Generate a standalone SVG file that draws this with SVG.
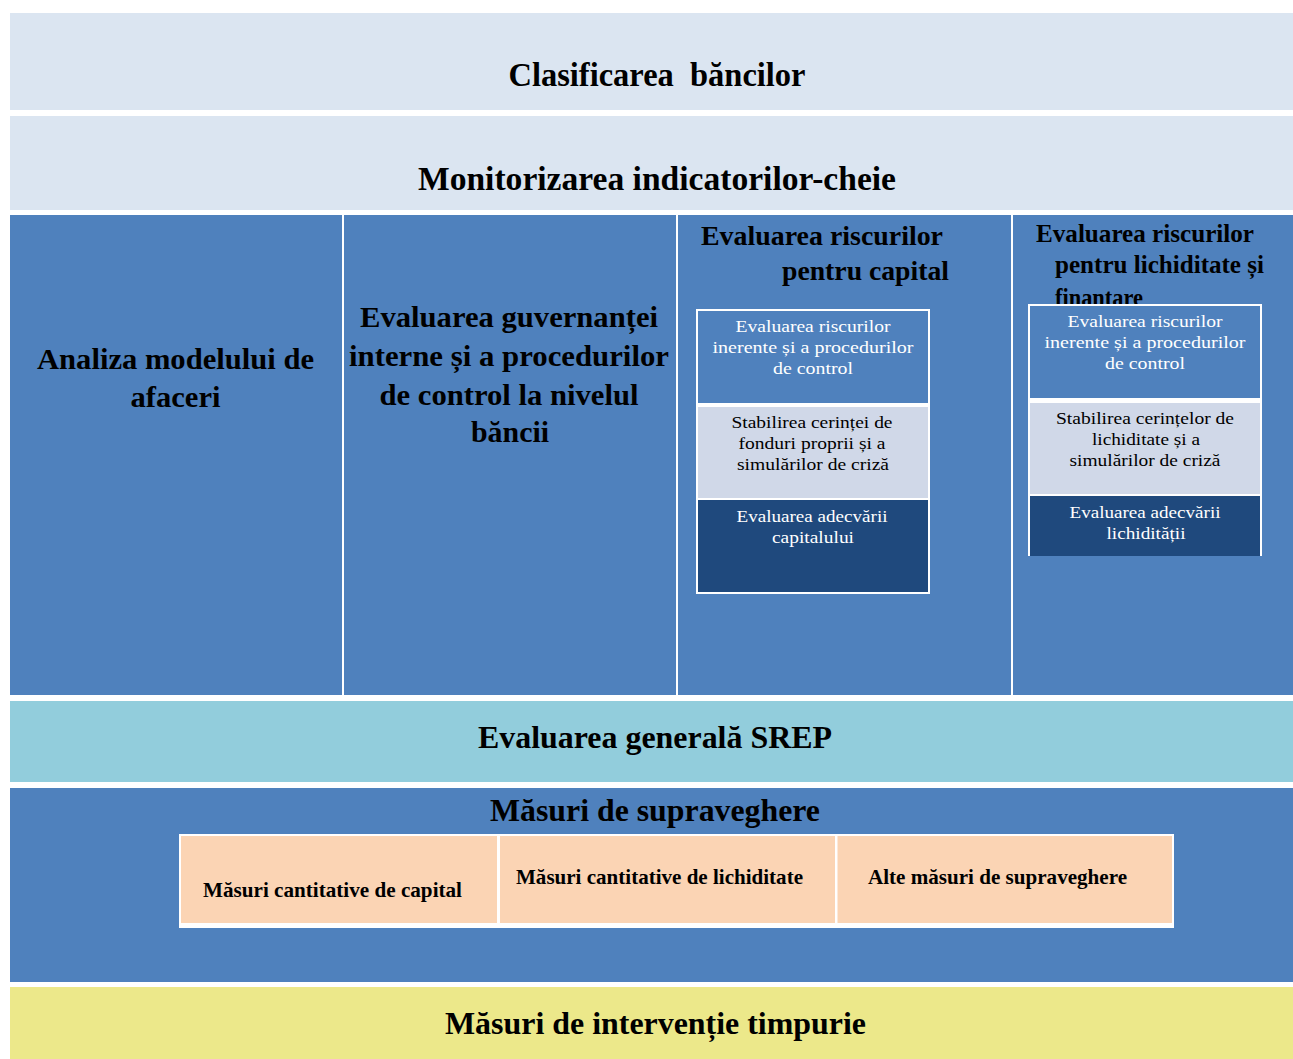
<svg xmlns="http://www.w3.org/2000/svg" width="1293" height="1059" viewBox="0 0 1293 1059">
<style>
.t{font-family:"Liberation Serif","Times New Roman",serif;font-weight:bold;fill:#000}
.s{font-family:"Liberation Serif","Times New Roman",serif;font-size:17.5px;text-anchor:middle}
.w{fill:#fff}
.k{fill:#000}
.light{fill:#DBE5F1}
.blue{fill:#4F81BD}
.dark{fill:#1F497D}
.pale{fill:#D0D8E8}
.peach{fill:#FBD4B4}
</style>
<rect width="1293" height="1059" fill="#fff"/>
<g id="clasificarea">
<rect class="light" x="10" y="13" width="1283" height="97"/>
<text class="t" x="657" y="86" font-size="34" text-anchor="middle" textLength="297" lengthAdjust="spacingAndGlyphs">Clasificarea&#160; băncilor</text>
</g>
<g id="monitorizarea">
<rect class="light" x="10" y="116" width="1283" height="94"/>
<text class="t" x="657" y="190" font-size="34" text-anchor="middle" textLength="478" lengthAdjust="spacingAndGlyphs">Monitorizarea indicatorilor-cheie</text>
</g>
<g id="analiza">
<rect class="blue" x="10" y="215" width="332" height="480"/>
<text class="t" x="175.5" y="369" font-size="29" text-anchor="middle" textLength="277" lengthAdjust="spacingAndGlyphs">Analiza modelului de</text>
<text class="t" x="175.5" y="407" font-size="29" text-anchor="middle" textLength="90" lengthAdjust="spacingAndGlyphs">afaceri</text>
</g>
<g id="guvernanta">
<rect class="blue" x="344" y="215" width="332" height="480"/>
<text class="t" x="509" y="327" font-size="29" text-anchor="middle" textLength="298" lengthAdjust="spacingAndGlyphs">Evaluarea guvernanței</text>
<text class="t" x="509" y="366" font-size="29" text-anchor="middle" textLength="320" lengthAdjust="spacingAndGlyphs">interne și a procedurilor</text>
<text class="t" x="509" y="405" font-size="29" text-anchor="middle" textLength="259" lengthAdjust="spacingAndGlyphs">de control la nivelul</text>
<text class="t" x="510" y="442" font-size="29" text-anchor="middle" textLength="78" lengthAdjust="spacingAndGlyphs">băncii</text>
</g>
<g id="capital">
<rect class="blue" x="678" y="215" width="333" height="480"/>
<text class="t" x="701" y="245" font-size="28" textLength="242" lengthAdjust="spacingAndGlyphs">Evaluarea riscurilor</text>
<text class="t" x="782" y="280" font-size="28" textLength="167" lengthAdjust="spacingAndGlyphs">pentru capital</text>
<rect class="w" x="696" y="309" width="234" height="285"/>
<rect class="blue" x="698" y="311" width="230" height="92"/>
<rect class="pale" x="698" y="407" width="230" height="91"/>
<rect class="dark" x="698" y="500" width="230" height="92"/>
<text class="s w" x="813" y="332" textLength="155" lengthAdjust="spacingAndGlyphs">Evaluarea riscurilor</text>
<text class="s w" x="813" y="353" textLength="201" lengthAdjust="spacingAndGlyphs">inerente și a procedurilor</text>
<text class="s w" x="813" y="374" textLength="80" lengthAdjust="spacingAndGlyphs">de control</text>
<text class="s k" x="812" y="428" textLength="161" lengthAdjust="spacingAndGlyphs">Stabilirea cerinței de</text>
<text class="s k" x="812" y="449" textLength="147" lengthAdjust="spacingAndGlyphs">fonduri proprii și a</text>
<text class="s k" x="813" y="470" textLength="152" lengthAdjust="spacingAndGlyphs">simulărilor de criză</text>
<text class="s w" x="812" y="522" textLength="151" lengthAdjust="spacingAndGlyphs">Evaluarea adecvării</text>
<text class="s w" x="813" y="543" textLength="82" lengthAdjust="spacingAndGlyphs">capitalului</text>
</g>
<g id="lichiditate">
<rect class="blue" x="1013" y="215" width="280" height="480"/>
<text class="t" x="1036" y="242" font-size="26" textLength="218" lengthAdjust="spacingAndGlyphs">Evaluarea riscurilor</text>
<text class="t" x="1055" y="273" font-size="26" textLength="209" lengthAdjust="spacingAndGlyphs">pentru lichiditate și</text>
<text class="t" x="1055" y="306" font-size="26" textLength="88" lengthAdjust="spacingAndGlyphs">finantare</text>
<rect class="w" x="1028" y="304" width="234" height="252"/>
<rect class="blue" x="1030" y="306" width="230" height="92"/>
<rect class="pale" x="1030" y="403" width="230" height="91"/>
<rect class="dark" x="1030" y="496" width="230" height="60"/>
<text class="s w" x="1145" y="327" textLength="155" lengthAdjust="spacingAndGlyphs">Evaluarea riscurilor</text>
<text class="s w" x="1145" y="348" textLength="201" lengthAdjust="spacingAndGlyphs">inerente și a procedurilor</text>
<text class="s w" x="1145" y="369" textLength="80" lengthAdjust="spacingAndGlyphs">de control</text>
<text class="s k" x="1145" y="424" textLength="178" lengthAdjust="spacingAndGlyphs">Stabilirea cerințelor de</text>
<text class="s k" x="1146" y="445" textLength="108" lengthAdjust="spacingAndGlyphs">lichiditate și a</text>
<text class="s k" x="1145" y="466" textLength="151" lengthAdjust="spacingAndGlyphs">simulărilor de criză</text>
<text class="s w" x="1145" y="518" textLength="151" lengthAdjust="spacingAndGlyphs">Evaluarea adecvării</text>
<text class="s w" x="1146" y="539" textLength="79" lengthAdjust="spacingAndGlyphs">lichidității</text>
</g>
<g id="srep">
<rect fill="#92CDDC" x="10" y="701" width="1283" height="81"/>
<text class="t" x="655" y="748" font-size="31" text-anchor="middle" textLength="354" lengthAdjust="spacingAndGlyphs">Evaluarea generală SREP</text>
</g>
<g id="masuri">
<rect class="blue" x="10" y="788" width="1283" height="194"/>
<text class="t" x="655" y="821" font-size="31" text-anchor="middle" textLength="330" lengthAdjust="spacingAndGlyphs">Măsuri de supraveghere</text>
<rect class="w" x="179" y="834" width="995" height="94"/>
<rect class="peach" x="181" y="836" width="316" height="87"/>
<rect class="peach" x="500" y="836" width="335" height="87"/>
<rect class="peach" x="837.5" y="836" width="334.5" height="87"/>
<text class="t" x="203" y="897" font-size="21" textLength="259" lengthAdjust="spacingAndGlyphs">Măsuri cantitative de capital</text>
<text class="t" x="516" y="884" font-size="21" textLength="287" lengthAdjust="spacingAndGlyphs">Măsuri cantitative de lichiditate</text>
<text class="t" x="868" y="884" font-size="21" textLength="259" lengthAdjust="spacingAndGlyphs">Alte măsuri de supraveghere</text>
</g>
<g id="interventie">
<rect fill="#ECE88A" x="10" y="987" width="1283" height="72"/>
<text class="t" x="655.5" y="1034" font-size="31" text-anchor="middle" textLength="421" lengthAdjust="spacingAndGlyphs">Măsuri de intervenție timpurie</text>
</g>
<g id="connectors"/>
</svg>
